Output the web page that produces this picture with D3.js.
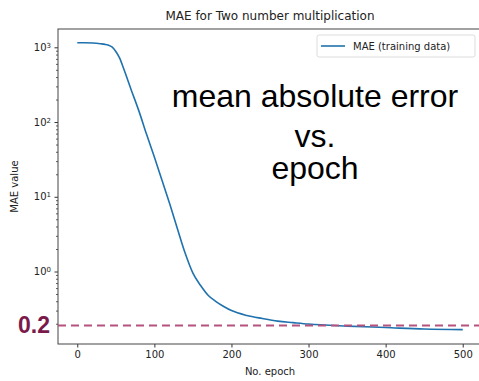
<!DOCTYPE html>
<html>
<head>
<meta charset="utf-8">
<script src="https://cdn.jsdelivr.net/npm/d3@7"></script>
<style>
  body { margin: 0; background: #fff; }
  text { font-family: "DejaVu Sans", sans-serif; }
</style>
</head>
<body>
<div id="chart"></div>
<script>
// data
const epochs = [0, 10, 20, 30, 36, 40, 45, 50, 55, 60, 65, 70, 80, 90, 100, 110, 120, 130, 140, 150,
  160, 170, 180, 190, 200, 220, 240, 260, 280, 300, 350, 400, 450, 500];
const maeValues = [1150, 1150, 1140, 1115, 1095, 1070, 1010, 880, 716, 525, 376, 269, 140, 68, 34,
  16.5, 8.0, 3.7, 1.75, 0.95, 0.65, 0.477, 0.396, 0.34, 0.30, 0.258, 0.235, 0.217, 0.207,
  0.198, 0.186, 0.178, 0.170, 0.167];
const xTicks = [0, 100, 200, 300, 400, 500];
const yMajorTicks = [1, 10, 100, 1000];
const refValue = 0.19;
const refLabel = "0.2";
const annotation = ["mean absolute error", "vs.", "epoch"];

const width = 479, height = 381;
const mLeft = 58, mRight = 482, mTop = 29, mBottom = 344;

const svg = d3.select("#chart").append("svg")
  .attr("width", width)
  .attr("height", height);

const x = d3.scaleLinear().domain([-25, 525]).range([mLeft, mRight]);
const y = d3.scaleLog().domain([Math.pow(10, -0.97), Math.pow(10, 3.245)]).range([mBottom, mTop]);

// title
svg.append("text")
  .attr("x", (mLeft + mRight) / 2)
  .attr("y", 20)
  .attr("text-anchor", "middle")
  .attr("font-size", "12px")
  .attr("fill", "#222")
  .text("MAE for Two number multiplication");

// x axis
const gx = svg.append("g")
  .attr("transform", "translate(0," + mBottom + ")")
  .call(d3.axisBottom(x).tickValues(xTicks).tickSize(3.5).tickPadding(3.5).tickFormat(d3.format("d")));
gx.select(".domain").remove();
gx.selectAll("text").attr("font-size", "10px").attr("fill", "#222").attr("font-family", "DejaVu Sans");
gx.selectAll("line").attr("stroke", "#333");

// y axis, major ticks with 10^n labels
const gy = svg.append("g")
  .attr("transform", "translate(" + mLeft + ",0)")
  .call(d3.axisLeft(y).tickValues(yMajorTicks).tickSize(3.5).tickPadding(3.5).tickFormat(""));
gy.select(".domain").remove();
gy.selectAll("line").attr("stroke", "#333");
gy.selectAll(".tick text").each(function(d) {
  const t = d3.select(this)
    .attr("font-size", "10px").attr("fill", "#222").attr("font-family", "DejaVu Sans");
  t.append("tspan").text("10");
  t.append("tspan").attr("dy", "-0.45em").attr("font-size", "7px").text(Math.round(Math.log10(d)));
});

// minor ticks
const minor = [];
for (let e = -1; e <= 3; e++) {
  for (let m = 2; m <= 9; m++) {
    const v = m * Math.pow(10, e);
    if (v > y.domain()[0] && v < y.domain()[1]) minor.push(v);
  }
}
const gm = svg.append("g")
  .attr("transform", "translate(" + mLeft + ",0)")
  .call(d3.axisLeft(y).tickValues(minor).tickSize(2).tickFormat(""));
gm.select(".domain").remove();
gm.selectAll("line").attr("stroke", "#333").attr("stroke-width", 0.8);

// axis labels
svg.append("text")
  .attr("x", (mLeft + mRight) / 2)
  .attr("y", 375)
  .attr("text-anchor", "middle")
  .attr("font-size", "10px")
  .attr("fill", "#222")
  .text("No. epoch");

svg.append("text")
  .attr("transform", "translate(18," + ((mTop + mBottom) / 2) + ") rotate(-90)")
  .attr("text-anchor", "middle")
  .attr("font-size", "10px")
  .attr("fill", "#222")
  .text("MAE value");

// spines
svg.append("rect")
  .attr("x", mLeft).attr("y", mTop)
  .attr("width", mRight - mLeft).attr("height", mBottom - mTop)
  .attr("fill", "none")
  .attr("stroke", "#444")
  .attr("stroke-width", 1);

// data line
const line = d3.line()
  .x((d, i) => x(epochs[i]))
  .y(d => y(d))
  .curve(d3.curveMonotoneX);

svg.append("path")
  .datum(maeValues)
  .attr("d", line)
  .attr("fill", "none")
  .attr("stroke", "#1f72ad")
  .attr("stroke-width", 1.6);

// reference line
svg.append("line")
  .attr("x1", mLeft).attr("x2", width)
  .attr("y1", y(refValue)).attr("y2", y(refValue))
  .attr("stroke", "#b5527e")
  .attr("stroke-width", 2)
  .attr("stroke-dasharray", "8,5");

svg.append("text")
  .attr("x", 50)
  .attr("y", y(refValue) + 8)
  .attr("text-anchor", "end")
  .attr("font-weight", "bold")
  .attr("font-size", "23px")
  .attr("fill", "#7a1a4a")
  .style("font-family", "'Liberation Sans', Arial, sans-serif")
  .text(refLabel);

// legend
const legend = svg.append("g");
legend.append("rect")
  .attr("x", 317).attr("y", 35)
  .attr("width", 158).attr("height", 22)
  .attr("rx", 2)
  .attr("fill", "#fff")
  .attr("stroke", "#ddd");
legend.append("line")
  .attr("x1", 321).attr("x2", 345)
  .attr("y1", 46).attr("y2", 46)
  .attr("stroke", "#1f72ad")
  .attr("stroke-width", 1.6);
legend.append("text")
  .attr("x", 353).attr("y", 50)
  .attr("font-size", "10px")
  .attr("fill", "#222")
  .text("MAE (training data)");

// big annotation
const ann = svg.append("text")
  .attr("text-anchor", "middle")
  .attr("font-size", "32px")
  .attr("fill", "#000")
  .style("font-family", "'Liberation Sans', Arial, sans-serif");
const annY = [107, 147, 179];
annotation.forEach((s, i) => {
  ann.append("tspan").attr("x", 315).attr("y", annY[i]).text(s);
});
</script>
</body>
</html>
